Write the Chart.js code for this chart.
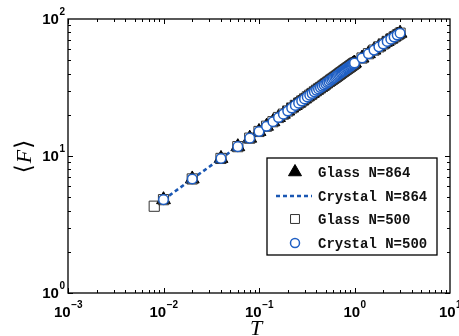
<!DOCTYPE html>
<html>
<head>
<meta charset="utf-8">
<script src="https://cdn.jsdelivr.net/npm/chart.js@4.4.1/dist/chart.umd.min.js"></script>
<style>
  html, body { margin: 0; padding: 0; background: #fff; }
  canvas { display: block; }
</style>
</head>
<body>
<canvas id="chart" width="459" height="336"></canvas>
<script>
// temperatures shared by most series
const temps = [
  0.01, 0.02, 0.04, 0.06, 0.08, 0.10, 0.12, 0.14, 0.16, 0.18, 0.20,
  0.22, 0.24, 0.26, 0.28, 0.30, 0.32, 0.34, 0.36, 0.38, 0.40,
  0.42, 0.44, 0.46, 0.48, 0.50, 0.52, 0.54, 0.56, 0.58, 0.60,
  0.62, 0.64, 0.66, 0.68, 0.70, 0.72, 0.74, 0.76, 0.78, 0.80,
  0.82, 0.84, 0.86, 0.88, 0.90, 0.92, 0.94, 0.96, 0.98, 1.00,
  1.2, 1.4, 1.6, 1.8, 2.0, 2.2, 2.4, 2.6, 2.8, 3.0
];
const glass864 = [
  4.8, 6.8, 9.6, 11.7, 13.5, 15.1, 16.5, 17.8, 19.1, 20.2, 21.3,
  22.4, 23.4, 24.3, 25.2, 26.1, 27.0, 27.8, 28.6, 29.4, 30.2,
  30.9, 31.6, 32.3, 33.0, 33.7, 34.4, 35.0, 35.7, 36.3, 36.9,
  37.5, 38.1, 38.7, 39.3, 39.9, 40.5, 41.0, 41.6, 42.1, 42.7,
  43.2, 43.7, 44.2, 44.7, 45.2, 45.7, 46.2, 46.7, 47.2, 47.7,
  51.9, 55.8, 59.3, 62.6, 65.7, 68.6, 71.3, 73.9, 76.4, 78.8
];
// crystal N=864 only runs up to T = 1
const crystal864 = [
  4.8, 6.8, 9.6, 11.7, 13.5, 15.1, 16.5, 17.8, 19.1, 20.2, 21.3,
  22.4, 23.4, 24.3, 25.2, 26.1, 27.0, 27.8, 28.6, 29.4, 30.2,
  30.9, 31.6, 32.3, 33.0, 33.7, 34.4, 35.0, 35.7, 36.3, 36.9,
  37.5, 38.1, 38.7, 39.3, 39.9, 40.5, 41.0, 41.6, 42.1, 42.7,
  43.2, 43.7, 44.2, 44.7, 45.2, 45.7, 46.2, 46.7, 47.2, 47.7
];
// glass N=500 has one extra point at T = 0.008
const glass500Temps = [0.008].concat(temps);
const glass500 = [
  4.3, 4.8, 6.8, 9.6, 11.7, 13.5, 15.1, 16.5, 17.8, 19.1, 20.2, 21.3,
  22.4, 23.4, 24.3, 25.2, 26.1, 27.0, 27.8, 28.6, 29.4, 30.2,
  30.9, 31.6, 32.3, 33.0, 33.7, 34.4, 35.0, 35.7, 36.3, 36.9,
  37.5, 38.1, 38.7, 39.3, 39.9, 40.5, 41.0, 41.6, 42.1, 42.7,
  43.2, 43.7, 44.2, 44.7, 45.2, 45.7, 46.2, 46.7, 47.2, 47.7,
  51.9, 55.8, 59.3, 62.6, 65.7, 68.6, 71.3, 73.9, 76.4, 78.8
];
const crystal500 = [
  4.8, 6.8, 9.6, 11.7, 13.5, 15.1, 16.5, 17.8, 19.1, 20.2, 21.3,
  22.4, 23.4, 24.3, 25.2, 26.1, 27.0, 27.8, 28.6, 29.4, 30.2,
  30.9, 31.6, 32.3, 33.0, 33.7, 34.4, 35.0, 35.7, 36.3, 36.9,
  37.5, 38.1, 38.7, 39.3, 39.9, 40.5, 41.0, 41.6, 42.1, 42.7,
  43.2, 43.7, 44.2, 44.7, 45.2, 45.7, 46.2, 46.7, 47.2, 47.7,
  51.9, 55.8, 59.3, 62.6, 65.7, 68.6, 71.3, 73.9, 76.4, 78.8
];

const xTickValues = [0.001, 0.01, 0.1, 1, 10];
const xTickExps = ["\u22123", "\u22122", "\u22121", "0", "1"];
const yTickValues = [1, 10, 100];
const yTickExps = ["0", "1", "2"];

const toPoints = (xs, ys) => ys.map((v, i) => ({ x: xs[i], y: v }));

// inward ticks, box, tick labels, axis titles
const axisDecor = {
  id: "axisDecor",
  afterDatasetsDraw(chart) {
    const { ctx, chartArea: a, scales: { x, y } } = chart;
    ctx.save();
    ctx.strokeStyle = "#000";
    ctx.lineWidth = 1;
    const seg = (x1, y1, x2, y2) => {
      ctx.beginPath(); ctx.moveTo(x1, y1); ctx.lineTo(x2, y2); ctx.stroke();
    };
    for (let k = -3; k < 1; k++) {
      for (let m = 1; m < 10; m++) {
        const px = Math.round(x.getPixelForValue(m * Math.pow(10, k))) + 0.5;
        const len = m === 1 ? 5 : 3;
        seg(px, a.bottom, px, a.bottom - len);
        seg(px, a.top, px, a.top + len);
      }
    }
    for (let k = 0; k < 2; k++) {
      for (let m = 1; m < 10; m++) {
        const py = Math.round(y.getPixelForValue(m * Math.pow(10, k))) + 0.5;
        const len = m === 1 ? 5 : 3;
        seg(a.left, py, a.left + len, py);
        seg(a.right, py, a.right - len, py);
      }
    }
    ctx.lineWidth = 1.3;
    ctx.strokeRect(a.left, a.top, a.right - a.left, a.bottom - a.top);

    // tick labels with superscripts
    ctx.fillStyle = "#000";
    ctx.textBaseline = "alphabetic";
    const big = "bold 15px 'Liberation Sans', Arial, sans-serif";
    const small = "bold 10px 'Liberation Sans', Arial, sans-serif";
    xTickValues.forEach((v, i) => {
      const px = x.getPixelForValue(v);
      ctx.font = big; const w1 = ctx.measureText("10").width;
      ctx.font = small; const w2 = ctx.measureText(xTickExps[i]).width;
      const x0 = px - (w1 + w2) / 2;
      ctx.textAlign = "left";
      ctx.font = big;
      ctx.fillText("10", x0, 317);
      ctx.font = small;
      ctx.fillText(xTickExps[i], x0 + w1 + 0.5, 308);
    });
    yTickValues.forEach((v, i) => {
      const py = y.getPixelForValue(v);
      ctx.font = small; const w2 = ctx.measureText(yTickExps[i]).width;
      ctx.textAlign = "right";
      ctx.fillText(yTickExps[i], 65, py - 4);
      ctx.font = big;
      ctx.fillText("10", 65 - w2 - 0.5, py + 5);
    });

    // x title
    ctx.textAlign = "center";
    ctx.font = "italic 22px 'Liberation Serif', 'Times New Roman', serif";
    ctx.fillText("T", 256, 335);

    // y title, rotated
    ctx.translate(31, 156);
    ctx.rotate(-Math.PI / 2);
    const parts = [
      ["\u27e8", "23px 'DejaVu Sans', sans-serif"],
      ["F", "italic 22px 'Liberation Serif', serif"],
      ["\u27e9", "23px 'DejaVu Sans', sans-serif"]
    ];
    let total = 0;
    parts.forEach(p => { ctx.font = p[1]; total += ctx.measureText(p[0]).width + 1; });
    let cx = -total / 2;
    ctx.textAlign = "left";
    parts.forEach(p => {
      ctx.font = p[1];
      ctx.fillText(p[0], cx, 0);
      cx += ctx.measureText(p[0]).width + 1;
    });
    ctx.restore();
  }
};

// boxed legend inside the plot, lower right
const legendOrder = ["Glass N=864", "Crystal N=864", "Glass N=500", "Crystal N=500"];
const boxLegend = {
  id: "boxLegend",
  afterDraw(chart) {
    const ctx = chart.ctx;
    const left = 267, top = 158, right = 437, bottom = 255;
    const rows = [172, 196, 219, 243];
    const legendRadius = { triangle: 7.5, rect: 6.3, circle: 4.5 };
    ctx.save();
    ctx.fillStyle = "#fff";
    ctx.fillRect(left, top, right - left, bottom - top);
    ctx.strokeStyle = "#000";
    ctx.lineWidth = 1.3;
    ctx.strokeRect(left, top, right - left, bottom - top);
    legendOrder.forEach((name, i) => {
      const d = chart.data.datasets.find(s => s.label === name);
      const ry = rows[i];
      if (d.showLine) {
        ctx.strokeStyle = d.borderColor;
        ctx.lineWidth = d.borderWidth;
        ctx.setLineDash(d.borderDash);
        ctx.beginPath(); ctx.moveTo(276, ry); ctx.lineTo(312, ry); ctx.stroke();
        ctx.setLineDash([]);
      } else {
        ctx.fillStyle = d.backgroundColor;
        ctx.strokeStyle = d.borderColor;
        ctx.lineWidth = d.borderWidth;
        Chart.helpers.drawPoint(ctx, {
          pointStyle: d.pointStyle,
          radius: legendRadius[d.pointStyle],
          borderWidth: d.borderWidth
        }, 295, ry);
      }
      ctx.fillStyle = "#111";
      ctx.font = "bold 14px 'Liberation Mono', 'Courier New', monospace";
      ctx.textAlign = "left";
      ctx.textBaseline = "middle";
      ctx.fillText(d.label, 318, ry + 1);
    });
    ctx.restore();
  }
};

// first dataset in the list is painted last (on top)
new Chart(document.getElementById("chart").getContext("2d"), {
  type: "scatter",
  data: {
    datasets: [
      {
        label: "Crystal N=500",
        data: toPoints(temps, crystal500),
        pointStyle: "circle",
        pointRadius: 4.8,
        backgroundColor: "#fff",
        borderColor: "#1f5fc4",
        borderWidth: 1.5
      },
      {
        label: "Glass N=500",
        data: toPoints(glass500Temps, glass500),
        pointStyle: "rect",
        pointRadius: 7.2,
        backgroundColor: "rgba(255,255,255,0)",
        borderColor: "#333",
        borderWidth: 1
      },
      {
        label: "Crystal N=864",
        data: toPoints(temps, crystal864),
        showLine: true,
        borderColor: "#1a57b3",
        borderWidth: 2.6,
        borderDash: [4, 3],
        pointRadius: 0
      },
      {
        label: "Glass N=864",
        data: toPoints(temps, glass864),
        pointStyle: "triangle",
        pointRadius: 8,
        backgroundColor: "#000",
        borderColor: "#000",
        borderWidth: 1
      }
    ]
  },
  options: {
    responsive: false,
    animation: false,
    events: [],
    layout: { padding: { left: 68, right: 9, top: 19, bottom: 43 } },
    scales: {
      x: { type: "logarithmic", min: 0.001, max: 10, display: false },
      y: { type: "logarithmic", min: 1, max: 100, display: false }
    },
    plugins: {
      legend: { display: false },
      tooltip: { enabled: false }
    }
  },
  plugins: [axisDecor, boxLegend]
});
</script>
</body>
</html>
